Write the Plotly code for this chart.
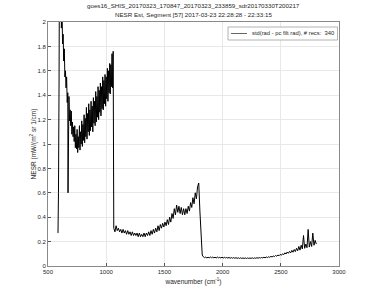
import numpy as np
import plotly.graph_objects as go

# ---- data ----
# leading spike (explicit wavenumbers)
wn_pre = [586, 588, 590, 595]
nesr_pre = [0.27, 0.40, 0.60, 1.50]

# segment 1: 600..1060 cm-1, 5 cm-1 sampling
seg1_start, seg1_step = 600, 5
nesr_seg1 = [3.0, 2.3, 2.6, 1.95, 2.15, 1.82, 1.9, 1.68, 1.78, 1.55,
             1.6, 1.46, 1.55, 1.34, 1.42, 1.29, 1.39, 1.19, 1.28, 1.15,
             1.27, 1.08, 1.18, 1.06, 1.14, 1.02, 1.15, 0.97, 1.08, 0.96,
             1.12, 0.93, 1.06, 0.97, 1.15, 0.95, 1.1, 1.0, 1.19, 0.98,
             1.16, 1.03, 1.24, 1.01, 1.21, 1.06, 1.3, 1.04, 1.25, 1.1,
             1.33, 1.07, 1.28, 1.11, 1.35, 1.14, 1.31, 1.1, 1.38, 1.17,
             1.35, 1.15, 1.43, 1.18, 1.39, 1.22, 1.47, 1.2, 1.44, 1.26,
             1.5, 1.23, 1.47, 1.29, 1.55, 1.28, 1.52, 1.33, 1.57, 1.31,
             1.55, 1.37, 1.62, 1.35, 1.6, 1.42, 1.66, 1.41, 1.65, 1.47,
             1.74, 1.46, 1.76]
# isolated dropout inside segment 1
wn_drop, nesr_drop = 672, 0.60

# segment 2: 1065..1795 cm-1, 10 cm-1 sampling
seg2_start, seg2_step = 1065, 10
nesr_seg2 = [0.31, 0.28, 0.33, 0.29, 0.31, 0.28, 0.30, 0.27, 0.30, 0.27,
             0.29, 0.26, 0.29, 0.26, 0.28, 0.25, 0.28, 0.25, 0.27, 0.25,
             0.27, 0.24, 0.27, 0.24, 0.26, 0.24, 0.27, 0.24, 0.27, 0.25,
             0.28, 0.25, 0.29, 0.26, 0.30, 0.27, 0.31, 0.28, 0.33, 0.29,
             0.34, 0.31, 0.35, 0.32, 0.36, 0.33, 0.38, 0.34, 0.40, 0.36,
             0.43, 0.39, 0.47, 0.42, 0.50, 0.44, 0.49, 0.43, 0.48, 0.42,
             0.47, 0.42, 0.47, 0.43, 0.49, 0.45, 0.52, 0.48, 0.56, 0.51,
             0.60, 0.55, 0.65, 0.68]
# fall-off (explicit wavenumbers)
wn_fall = [1805, 1815, 1825]
nesr_fall = [0.45, 0.20, 0.09]

# segment 3: 1835..2805 cm-1, 10 cm-1 sampling
seg3_start, seg3_step = 1835, 10
nesr_seg3 = [0.075, 0.068, 0.073, 0.066, 0.072, 0.067, 0.074, 0.068, 0.073, 0.067,
             0.072, 0.066, 0.073, 0.067, 0.071, 0.066, 0.072, 0.065, 0.071, 0.066,
             0.070, 0.065, 0.070, 0.064, 0.069, 0.064, 0.069, 0.063, 0.068, 0.063,
             0.067, 0.062, 0.067, 0.062, 0.066, 0.062, 0.066, 0.061, 0.066, 0.062,
             0.066, 0.062, 0.067, 0.062, 0.067, 0.063, 0.068, 0.064, 0.069, 0.065,
             0.070, 0.066, 0.072, 0.067, 0.074, 0.069, 0.076, 0.071, 0.079, 0.074,
             0.082, 0.077, 0.086, 0.080, 0.090, 0.084, 0.095, 0.088, 0.100, 0.093,
             0.108, 0.098, 0.115, 0.104, 0.120, 0.108, 0.128, 0.113, 0.135, 0.118,
             0.145, 0.125, 0.160, 0.130, 0.170, 0.140, 0.250, 0.145, 0.180, 0.150,
             0.300, 0.155, 0.200, 0.160, 0.270, 0.170, 0.210, 0.180]

x_ticks = [500, 1000, 1500, 2000, 2500, 3000]
y_ticks = [0, 0.2, 0.4, 0.6, 0.8, 1, 1.2, 1.4, 1.6, 1.8, 2]
y_tick_labels = ["0", "0.2", "0.4", "0.6", "0.8", "1", "1.2", "1.4", "1.6", "1.8", "2"]

title1 = "goes16_SHIS_20170323_170847_20170323_233859_sdr20170330T200217"
title2 = "NESR Est, Segment [57] 2017-03-23 22:28:28 - 22:33:15"
legend_label = "std(rad - pc filt rad), # recs:  340"

# ---- assemble the series ----
wn1 = list(seg1_start + seg1_step * np.arange(len(nesr_seg1)))
wn2 = list(seg2_start + seg2_step * np.arange(len(nesr_seg2)))
wn3 = list(seg3_start + seg3_step * np.arange(len(nesr_seg3)))

x_all = wn_pre + wn1 + wn2 + wn_fall + wn3
y_all = nesr_pre + nesr_seg1 + nesr_seg2 + nesr_fall + nesr_seg3
pairs = sorted(zip(x_all, y_all))
idx = next(i for i, (xx, _) in enumerate(pairs) if xx > wn_drop)
pairs.insert(idx, (wn_drop, nesr_drop))
xs = [float(p[0]) for p in pairs]
ys = [p[1] for p in pairs]

FONT = "Liberation Sans, Arial, sans-serif"
TXT = "#262626"

fig = go.Figure()
fig.add_trace(go.Scatter(x=xs, y=ys, mode="lines", name=legend_label,
                         line=dict(color="black", width=1.0), showlegend=False))

fig.update_layout(
    width=375, height=301,
    margin=dict(l=48, r=36, t=22, b=35),
    paper_bgcolor="white", plot_bgcolor="white",
    font=dict(family=FONT, size=6, color=TXT),
    showlegend=False,
)
fig.update_xaxes(range=[500, 3000], tickvals=x_ticks, ticks="inside", ticklen=3,
                 tickcolor="#555", showline=True, linecolor="#8a8a8a", linewidth=0.8,
                 mirror=True, showgrid=True, gridcolor="#e8e8e8", gridwidth=0.6,
                 zeroline=False, tickfont=dict(size=6, color=TXT),
                 title=dict(text="wavenumber (cm<sup>-1</sup>)", font=dict(size=6.5, color=TXT),
                            standoff=5))
fig.update_yaxes(range=[0, 2], tickvals=y_ticks, ticktext=y_tick_labels, ticks="inside",
                 ticklen=3, tickcolor="#555", showline=True, linecolor="#8a8a8a",
                 linewidth=0.8, mirror=True, showgrid=True, gridcolor="#e8e8e8",
                 gridwidth=0.6, zeroline=False, tickfont=dict(size=6, color=TXT),
                 title=dict(text="NESR (mW/(m<sup>2</sup> sr 1/cm)", font=dict(size=6.5, color=TXT),
                            standoff=0))

ph = 301 - 22 - 35
pw = 375 - 48 - 36

def px_x(p):
    return (p - 48) / pw

def px_y(p):
    return 1 - (p - 22) / ph

# titles
fig.add_annotation(text=title1, x=0.5, xref="paper", y=px_y(6), yref="paper", showarrow=False,
                   font=dict(size=6.2, color=TXT), yanchor="middle")
fig.add_annotation(text=title2, x=0.5, xref="paper", y=px_y(15), yref="paper", showarrow=False,
                   font=dict(size=6.2, color=TXT), yanchor="middle")

# legend box drawn manually (matches reference's compact legend)
fig.add_shape(type="rect", xref="paper", yref="paper",
              x0=px_x(228), x1=px_x(337.5), y0=px_y(40), y1=px_y(27),
              line=dict(color="#a0a0a0", width=0.8), fillcolor="white", layer="above")
fig.add_shape(type="line", xref="paper", yref="paper",
              x0=px_x(231), x1=px_x(247), y0=px_y(33.5), y1=px_y(33.5),
              line=dict(color="black", width=0.6), layer="above")
fig.add_annotation(text=legend_label, x=px_x(249.5), xref="paper", y=px_y(33.5), yref="paper",
                   showarrow=False, xanchor="left", yanchor="middle",
                   font=dict(size=5.8, color=TXT))

fig.write_html("out.html")
